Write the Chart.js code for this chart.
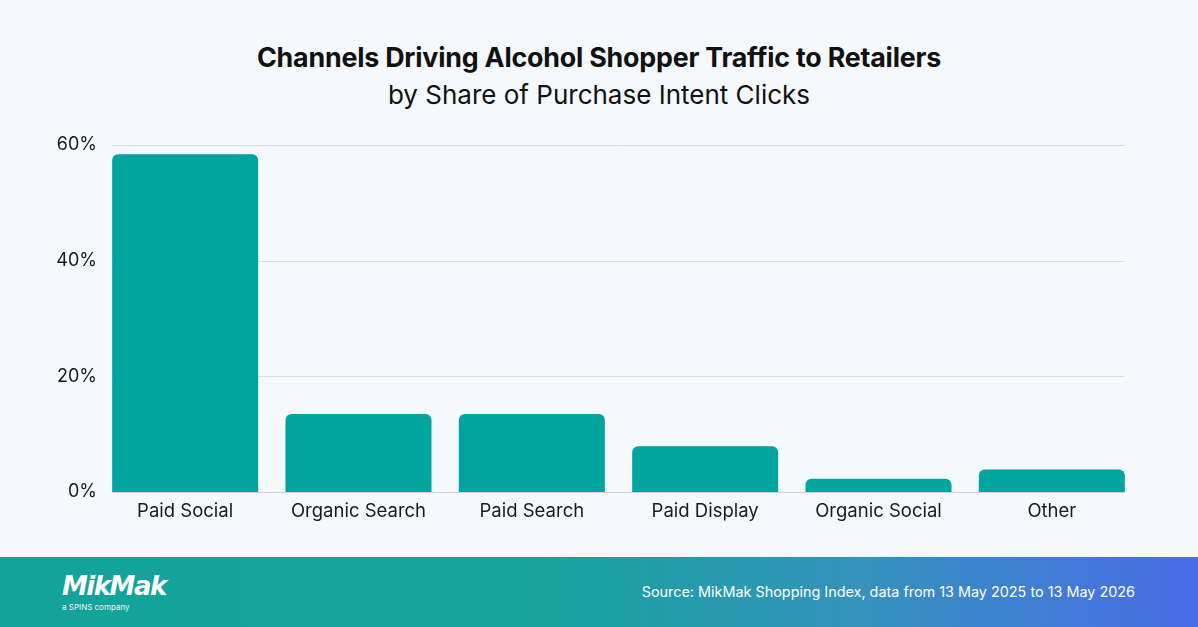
<!DOCTYPE html>
<html>
<head>
<meta charset="utf-8">
<script src="https://cdn.jsdelivr.net/npm/chart.js@4.4.1/dist/chart.umd.min.js"></script>
<style>
  html, body { margin: 0; padding: 0; }
  body { width: 1198px; height: 627px; background: #f5f8fc; position: relative; overflow: hidden; font-family: Inter, "Noto Sans", sans-serif; }
  #title { position: absolute; top: 41px; left: 0; width: 1198px; text-align: center; font-size: 26.8px; font-weight: 700; color: #111; letter-spacing: -0.2px; }
  #subtitle { position: absolute; top: 79px; left: 0; width: 1198px; text-align: center; font-size: 26px; font-weight: 400; color: #111; }
  #wrap { position: absolute; left: 0; top: 125px; width: 1198px; height: 410px; }
  #footer { position: absolute; left: 0; top: 557px; width: 1198px; height: 70px;
    background: linear-gradient(90deg, #13a39b 0%, #17a39b 45%, #3592bd 72%, #4a6be6 100%); }
  #logo { position: absolute; left: 62px; top: 14px; color: #fff; font-family: "DejaVu Sans", sans-serif; font-weight: 700; font-style: italic; font-size: 26px; letter-spacing: -1.5px; }
  #tag { position: absolute; left: 62px; top: 45px; color: #eafaf8; font-size: 8px; }
  #source { position: absolute; right: 63px; top: 26px; color: #fff; font-size: 14.4px; }
</style>
</head>
<body>
<div id="title">Channels Driving Alcohol Shopper Traffic to Retailers</div>
<div id="subtitle">by Share of Purchase Intent Clicks</div>
<div id="wrap"><canvas id="chart"></canvas></div>
<div id="footer">
  <div id="logo">MikMak</div>
  <div id="tag">a SPINS company</div>
  <div id="source">Source: MikMak Shopping Index, data from 13 May 2025 to 13 May 2026</div>
</div>
<script>
const channels = ['Paid Social', 'Organic Search', 'Paid Search', 'Paid Display', 'Organic Social', 'Other'];
const shares = [58.4, 13.5, 13.5, 7.9, 2.3, 3.9];
const yTicks = [0, 20, 40, 60];

// gridlines only span the bars, not the empty half-gaps at the edges
const gridPlugin = {
  id: 'barGrid',
  beforeDatasetsDraw(chart) {
    const bars = chart.getDatasetMeta(0).data;
    const left = bars[0].x - bars[0].width / 2;
    const right = bars[bars.length - 1].x + bars[bars.length - 1].width / 2;
    const y = chart.scales.y;
    const c = chart.ctx;
    c.save();
    c.lineWidth = 1;
    yTicks.forEach(t => {
      const py = Math.round(y.getPixelForValue(t)) + 0.5;
      c.strokeStyle = t === 0 ? '#cfd3d8' : '#dadee3';
      c.beginPath();
      c.moveTo(left, py);
      c.lineTo(right, py);
      c.stroke();
    });
    c.restore();
  }
};

new Chart(document.getElementById('chart'), {
  type: 'bar',
  data: {
    labels: channels,
    datasets: [{
      data: shares,
      backgroundColor: '#00a5a0',
      borderRadius: { topLeft: 6, topRight: 6 },
      borderSkipped: 'bottom',
      barPercentage: 0.8425,
      categoryPercentage: 1
    }]
  },
  options: {
    responsive: true,
    maintainAspectRatio: false,
    animation: false,
    layout: { padding: { left: 0, right: 59.5, top: 20, bottom: 3 } },
    plugins: { legend: { display: false }, tooltip: { enabled: false } },
    scales: {
      x: {
        grid: { display: false, drawTicks: false },
        border: { display: false },
        ticks: { color: '#1a1a1a', font: { family: 'Inter', size: 18.5 }, padding: 8, maxRotation: 0 },
        afterFit(s) { s.height = 40; }
      },
      y: {
        min: 0, max: 60,
        grid: { display: false, drawTicks: false },
        border: { display: false },
        afterBuildTicks(s) { s.ticks = yTicks.map(v => ({ value: v })); },
        ticks: { color: '#1a1a1a', font: { family: 'Inter', size: 18 }, padding: 1.5, callback: v => v + '%' },
        afterFit(s) { s.width = 98.5; }
      }
    }
  },
  plugins: [gridPlugin]
});
</script>
</body>
</html>
